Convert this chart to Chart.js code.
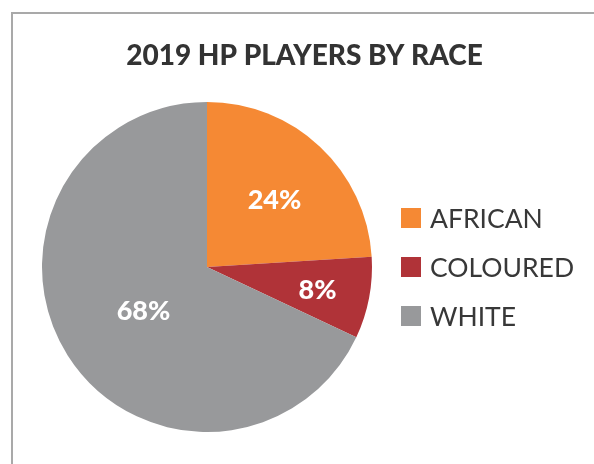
<!DOCTYPE html>
<html>
<head>
<meta charset="utf-8">
<script src="https://cdn.jsdelivr.net/npm/chart.js@4/dist/chart.umd.min.js"></script>
<style>
  html, body { margin: 0; padding: 0; background: #fff; }
  #frame {
    position: absolute;
    left: 11px;
    top: 12px;
    width: 581px;
    height: 450px;
    border-left: 2px solid #a9a9a9;
    border-top: 2px solid #a9a9a9;
  }
  #chart { display: block; }
</style>
</head>
<body>
<div id="frame"><canvas id="chart" width="581" height="450"></canvas></div>
<script>
const races = ["AFRICAN", "COLOURED", "WHITE"];
const shares = [24, 8, 68];
const sliceColors = ["#f58934", "#b03338", "#98999b"];
const chartTitle = "2019 HP PLAYERS BY RACE";

// title centred on the whole canvas, not on the pie area
const topTitle = {
  id: "topTitle",
  afterDraw(chart, args, opts) {
    const ctx = chart.ctx;
    ctx.save();
    ctx.fillStyle = "#333";
    ctx.font = "900 28px Lato";
    ctx.textAlign = "center";
    ctx.textBaseline = "middle";
    ctx.fillText(chartTitle, chart.width / 2 + opts.shift, opts.y);
    ctx.restore();
  }
};

// % labels drawn inside each slice
const sliceLabels = {
  id: "sliceLabels",
  afterDatasetsDraw(chart, args, opts) {
    const ctx = chart.ctx;
    const arcs = chart.getDatasetMeta(0).data;
    ctx.save();
    ctx.fillStyle = "#fff";
    ctx.font = "900 27px Lato";
    ctx.textAlign = "center";
    ctx.textBaseline = "middle";
    arcs.forEach((arc, i) => {
      const mid = (arc.startAngle + arc.endAngle) / 2;
      const r = arc.outerRadius * opts.radii[i];
      ctx.fillText(shares[i] + "%", arc.x + Math.cos(mid) * r + 2, arc.y + Math.sin(mid) * r + 3);
    });
    ctx.restore();
  }
};

// legend on the right
const sideLegend = {
  id: "sideLegend",
  afterDraw(chart, args, opts) {
    const ctx = chart.ctx;
    ctx.save();
    ctx.font = "26.5px Lato";
    ctx.textBaseline = "middle";
    races.forEach((name, i) => {
      const y = opts.top + i * opts.step;
      ctx.fillStyle = sliceColors[i];
      ctx.fillRect(opts.left, y - 10, 20, 20);
      ctx.fillStyle = "#383838";
      ctx.fillText(name, opts.left + 29, y + 1);
    });
    ctx.restore();
  }
};

new Chart(document.getElementById("chart"), {
  type: "pie",
  data: {
    labels: races,
    datasets: [{
      data: shares,
      backgroundColor: sliceColors,
      borderWidth: 0,
      hoverOffset: 0,
    }],
  },
  options: {
    responsive: false,
    animation: false,
    layout: { padding: { left: 29, right: 222, top: 88, bottom: 32 } },
    plugins: {
      legend: { display: false },
      tooltip: { enabled: false },
      title: { display: false },
      topTitle: { y: 42, shift: 1 },
      sliceLabels: { radii: [0.58, 0.67, 0.47] },
      sideLegend: { left: 388, top: 204, step: 49 },
    },
  },
  plugins: [topTitle, sliceLabels, sideLegend],
});
</script>
</body>
</html>
